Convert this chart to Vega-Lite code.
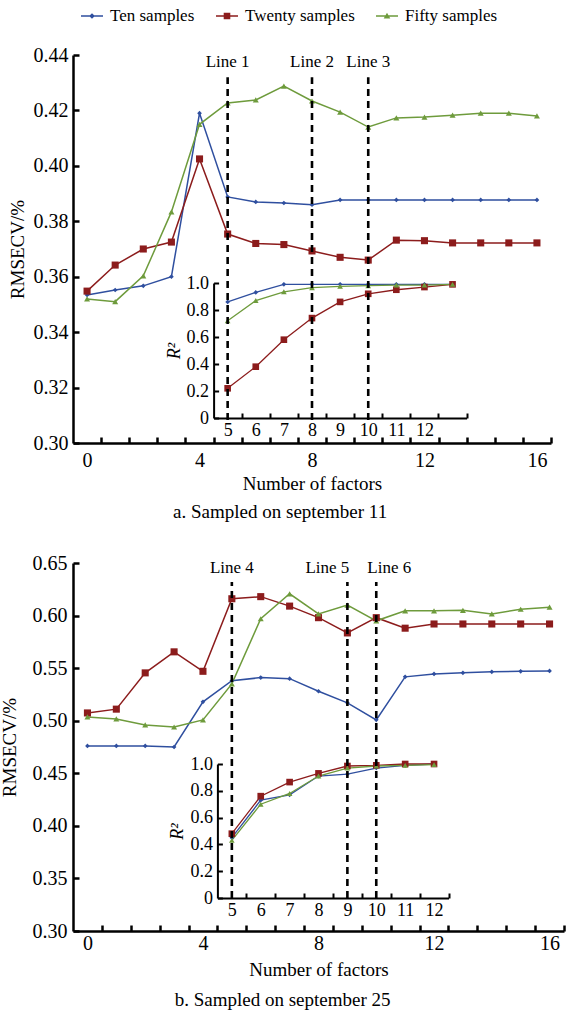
{
  "$schema": "https://vega.github.io/schema/vega-lite/v6.json",
  "background": "white",
  "padding": {"left": 0, "right": 0, "top": 5, "bottom": 0},
  "config": {
    "view": {"stroke": null},
    "font": "Liberation Serif",
    "axis": {"grid": false, "domainColor": "black", "tickColor": "black", "labelColor": "black", "titleColor": "black", "labelFont": "Liberation Serif", "titleFont": "Liberation Serif", "titleFontWeight": "normal", "labelFlush": false, "labelOverlap": false},
    "title": {"font": "Liberation Serif", "fontWeight": "normal", "color": "black"}
  },
  "datasets": {
    "mainA": [
      {"f": 0, "series": "Ten samples", "v": 0.3534}, {"f": 1, "series": "Ten samples", "v": 0.3552}, {"f": 2, "series": "Ten samples", "v": 0.3567}, {"f": 3, "series": "Ten samples", "v": 0.360}, {"f": 4, "series": "Ten samples", "v": 0.419}, {"f": 5, "series": "Ten samples", "v": 0.3888}, {"f": 6, "series": "Ten samples", "v": 0.387}, {"f": 7, "series": "Ten samples", "v": 0.3866}, {"f": 8, "series": "Ten samples", "v": 0.386}, {"f": 9, "series": "Ten samples", "v": 0.3877}, {"f": 10, "series": "Ten samples", "v": 0.3877}, {"f": 11, "series": "Ten samples", "v": 0.3877}, {"f": 12, "series": "Ten samples", "v": 0.3877}, {"f": 13, "series": "Ten samples", "v": 0.3877}, {"f": 14, "series": "Ten samples", "v": 0.3877}, {"f": 15, "series": "Ten samples", "v": 0.3877}, {"f": 16, "series": "Ten samples", "v": 0.3877},
      {"f": 0, "series": "Twenty samples", "v": 0.3548}, {"f": 1, "series": "Twenty samples", "v": 0.3642}, {"f": 2, "series": "Twenty samples", "v": 0.370}, {"f": 3, "series": "Twenty samples", "v": 0.3725}, {"f": 4, "series": "Twenty samples", "v": 0.4025}, {"f": 5, "series": "Twenty samples", "v": 0.3754}, {"f": 6, "series": "Twenty samples", "v": 0.372}, {"f": 7, "series": "Twenty samples", "v": 0.3716}, {"f": 8, "series": "Twenty samples", "v": 0.3693}, {"f": 9, "series": "Twenty samples", "v": 0.367}, {"f": 10, "series": "Twenty samples", "v": 0.366}, {"f": 11, "series": "Twenty samples", "v": 0.3732}, {"f": 12, "series": "Twenty samples", "v": 0.373}, {"f": 13, "series": "Twenty samples", "v": 0.3722}, {"f": 14, "series": "Twenty samples", "v": 0.3722}, {"f": 15, "series": "Twenty samples", "v": 0.3722}, {"f": 16, "series": "Twenty samples", "v": 0.3722},
      {"f": 0, "series": "Fifty samples", "v": 0.352}, {"f": 1, "series": "Fifty samples", "v": 0.351}, {"f": 2, "series": "Fifty samples", "v": 0.3603}, {"f": 3, "series": "Fifty samples", "v": 0.3834}, {"f": 4, "series": "Fifty samples", "v": 0.415}, {"f": 5, "series": "Fifty samples", "v": 0.4227}, {"f": 6, "series": "Fifty samples", "v": 0.4238}, {"f": 7, "series": "Fifty samples", "v": 0.4288}, {"f": 8, "series": "Fifty samples", "v": 0.4234}, {"f": 9, "series": "Fifty samples", "v": 0.4194}, {"f": 10, "series": "Fifty samples", "v": 0.414}, {"f": 11, "series": "Fifty samples", "v": 0.4173}, {"f": 12, "series": "Fifty samples", "v": 0.4176}, {"f": 13, "series": "Fifty samples", "v": 0.4183}, {"f": 14, "series": "Fifty samples", "v": 0.419}, {"f": 15, "series": "Fifty samples", "v": 0.419}, {"f": 16, "series": "Fifty samples", "v": 0.418}
    ],
    "insetA": [
      {"f": 5, "series": "Ten samples", "r": 0.86}, {"f": 6, "series": "Ten samples", "r": 0.93}, {"f": 7, "series": "Ten samples", "r": 0.99}, {"f": 8, "series": "Ten samples", "r": 0.99}, {"f": 9, "series": "Ten samples", "r": 0.99}, {"f": 10, "series": "Ten samples", "r": 0.99}, {"f": 11, "series": "Ten samples", "r": 0.99}, {"f": 12, "series": "Ten samples", "r": 0.99}, {"f": 13, "series": "Ten samples", "r": 0.99},
      {"f": 5, "series": "Twenty samples", "r": 0.22}, {"f": 6, "series": "Twenty samples", "r": 0.38}, {"f": 7, "series": "Twenty samples", "r": 0.58}, {"f": 8, "series": "Twenty samples", "r": 0.74}, {"f": 9, "series": "Twenty samples", "r": 0.86}, {"f": 10, "series": "Twenty samples", "r": 0.92}, {"f": 11, "series": "Twenty samples", "r": 0.95}, {"f": 12, "series": "Twenty samples", "r": 0.97}, {"f": 13, "series": "Twenty samples", "r": 0.99},
      {"f": 5, "series": "Fifty samples", "r": 0.72}, {"f": 6, "series": "Fifty samples", "r": 0.87}, {"f": 7, "series": "Fifty samples", "r": 0.935}, {"f": 8, "series": "Fifty samples", "r": 0.965}, {"f": 9, "series": "Fifty samples", "r": 0.975}, {"f": 10, "series": "Fifty samples", "r": 0.98}, {"f": 11, "series": "Fifty samples", "r": 0.985}, {"f": 12, "series": "Fifty samples", "r": 0.985}, {"f": 13, "series": "Fifty samples", "r": 0.99}
    ],
    "mainB": [
      {"f": 0, "series": "Ten samples", "v": 0.476}, {"f": 1, "series": "Ten samples", "v": 0.476}, {"f": 2, "series": "Ten samples", "v": 0.476}, {"f": 3, "series": "Ten samples", "v": 0.475}, {"f": 4, "series": "Ten samples", "v": 0.518}, {"f": 5, "series": "Ten samples", "v": 0.538}, {"f": 6, "series": "Ten samples", "v": 0.541}, {"f": 7, "series": "Ten samples", "v": 0.540}, {"f": 8, "series": "Ten samples", "v": 0.528}, {"f": 9, "series": "Ten samples", "v": 0.517}, {"f": 10, "series": "Ten samples", "v": 0.5008}, {"f": 11, "series": "Ten samples", "v": 0.5417}, {"f": 12, "series": "Ten samples", "v": 0.5445}, {"f": 13, "series": "Ten samples", "v": 0.5455}, {"f": 14, "series": "Ten samples", "v": 0.5465}, {"f": 15, "series": "Ten samples", "v": 0.547}, {"f": 16, "series": "Ten samples", "v": 0.5474},
      {"f": 0, "series": "Twenty samples", "v": 0.5074}, {"f": 1, "series": "Twenty samples", "v": 0.511}, {"f": 2, "series": "Twenty samples", "v": 0.5455}, {"f": 3, "series": "Twenty samples", "v": 0.5655}, {"f": 4, "series": "Twenty samples", "v": 0.547}, {"f": 5, "series": "Twenty samples", "v": 0.616}, {"f": 6, "series": "Twenty samples", "v": 0.618}, {"f": 7, "series": "Twenty samples", "v": 0.609}, {"f": 8, "series": "Twenty samples", "v": 0.598}, {"f": 9, "series": "Twenty samples", "v": 0.5835}, {"f": 10, "series": "Twenty samples", "v": 0.598}, {"f": 11, "series": "Twenty samples", "v": 0.588}, {"f": 12, "series": "Twenty samples", "v": 0.592}, {"f": 13, "series": "Twenty samples", "v": 0.592}, {"f": 14, "series": "Twenty samples", "v": 0.592}, {"f": 15, "series": "Twenty samples", "v": 0.592}, {"f": 16, "series": "Twenty samples", "v": 0.592},
      {"f": 0, "series": "Fifty samples", "v": 0.5036}, {"f": 1, "series": "Fifty samples", "v": 0.5017}, {"f": 2, "series": "Fifty samples", "v": 0.496}, {"f": 3, "series": "Fifty samples", "v": 0.494}, {"f": 4, "series": "Fifty samples", "v": 0.5008}, {"f": 5, "series": "Fifty samples", "v": 0.535}, {"f": 6, "series": "Fifty samples", "v": 0.597}, {"f": 7, "series": "Fifty samples", "v": 0.6207}, {"f": 8, "series": "Fifty samples", "v": 0.6016}, {"f": 9, "series": "Fifty samples", "v": 0.610}, {"f": 10, "series": "Fifty samples", "v": 0.595}, {"f": 11, "series": "Fifty samples", "v": 0.6045}, {"f": 12, "series": "Fifty samples", "v": 0.6045}, {"f": 13, "series": "Fifty samples", "v": 0.605}, {"f": 14, "series": "Fifty samples", "v": 0.6016}, {"f": 15, "series": "Fifty samples", "v": 0.606}, {"f": 16, "series": "Fifty samples", "v": 0.608}
    ],
    "insetB": [
      {"f": 5, "series": "Ten samples", "r": 0.45}, {"f": 6, "series": "Ten samples", "r": 0.73}, {"f": 7, "series": "Ten samples", "r": 0.77}, {"f": 8, "series": "Ten samples", "r": 0.91}, {"f": 9, "series": "Ten samples", "r": 0.925}, {"f": 10, "series": "Ten samples", "r": 0.97}, {"f": 11, "series": "Ten samples", "r": 0.99}, {"f": 12, "series": "Ten samples", "r": 1.0},
      {"f": 5, "series": "Twenty samples", "r": 0.48}, {"f": 6, "series": "Twenty samples", "r": 0.76}, {"f": 7, "series": "Twenty samples", "r": 0.865}, {"f": 8, "series": "Twenty samples", "r": 0.93}, {"f": 9, "series": "Twenty samples", "r": 0.985}, {"f": 10, "series": "Twenty samples", "r": 0.99}, {"f": 11, "series": "Twenty samples", "r": 1.0}, {"f": 12, "series": "Twenty samples", "r": 1.0},
      {"f": 5, "series": "Fifty samples", "r": 0.43}, {"f": 6, "series": "Fifty samples", "r": 0.70}, {"f": 7, "series": "Fifty samples", "r": 0.78}, {"f": 8, "series": "Fifty samples", "r": 0.91}, {"f": 9, "series": "Fifty samples", "r": 0.97}, {"f": 10, "series": "Fifty samples", "r": 0.985}, {"f": 11, "series": "Fifty samples", "r": 0.99}, {"f": 12, "series": "Fifty samples", "r": 0.995}
    ],
    "linesA": [{"f": 5, "label": "Line 1"}, {"f": 8, "label": "Line 2"}, {"f": 10, "label": "Line 3"}],
    "linesB": [{"f": 5, "label": "Line 4"}, {"f": 9, "label": "Line 5"}, {"f": 10, "label": "Line 6"}]
  },
  "concat": [
    {
      "width": 478,
      "height": 388,
      "title": {"text": "a. Sampled on september 11", "orient": "bottom", "anchor": "middle", "frame": "bounds", "fontSize": 19, "offset": 10},
      "layer": [
        {
          "data": {"name": "mainA"},
          "encoding": {
            "x": {"field": "f", "type": "quantitative", "scale": {"domain": [-0.5, 16.5], "nice": false, "zero": false},
              "axis": {"values": [0, 0.5, 1.5, 2.5, 3.5, 4, 4.5, 5.5, 6.5, 7.5, 8, 8.5, 9.5, 10.5, 11.5, 12, 12.5, 13.5, 14.5, 15.5, 16, 16.5], "tickSize": -6, "tickWidth": 2.5, "domainWidth": 2.5, "tickOpacity": {"condition": {"test": "datum.value % 4 === 0", "value": 0}, "value": 1}, "labelExpr": "datum.value % 4 === 0 ? format(datum.value, 'd') : ''", "labelFontSize": 20, "labelPadding": 13, "title": "Number of factors", "titleFontSize": 19, "titlePadding": 4}},
            "y": {"field": "v", "type": "quantitative", "scale": {"domain": [0.30, 0.44], "nice": false, "zero": false},
              "axis": {"values": [0.30, 0.32, 0.34, 0.36, 0.38, 0.40, 0.42, 0.44], "format": ".2f", "tickSize": -6, "tickWidth": 2.5, "domainWidth": 2.5, "labelFontSize": 20, "labelPadding": 11, "title": "RMSECV/%", "titleFontSize": 19, "titleX": -46}},
            "color": {"field": "series", "type": "nominal", "scale": {"domain": ["Ten samples", "Twenty samples", "Fifty samples"], "range": ["#2f4f9f", "#8c1c1c", "#6e9b3c"]},
              "legend": {"orient": "none", "legendX": 8, "legendY": -50, "direction": "horizontal", "title": null, "labelFont": "Liberation Serif", "labelFontSize": 17, "labelColor": "black", "symbolSize": 484, "symbolStrokeWidth": 0, "columnPadding": 21, "labelOffset": 7,
                "encode": {"symbols": {"update": {
                  "shape": [
                    {"test": "datum.value === 'Ten samples'", "value": "M-1,-0.065H1V0.065H-1ZM0,-0.26L0.26,0L0,0.26L-0.26,0Z"},
                    {"test": "datum.value === 'Twenty samples'", "value": "M-1,-0.065H1V0.065H-1ZM-0.3,-0.3H0.3V0.3H-0.3Z"},
                    {"value": "M-1,-0.065H1V0.065H-1ZM0,-0.3L0.3,0.22H-0.3Z"}
                  ],
                  "size": {"value": 484}
                }}}}}
          },
          "layer": [
            {"mark": {"type": "line", "strokeWidth": 1.5}},
            {"mark": {"type": "point", "filled": true, "opacity": 1},
              "encoding": {
                "shape": {"condition": [{"test": "datum.series === 'Twenty samples'", "value": "square"}, {"test": "datum.series === 'Fifty samples'", "value": "triangle-up"}], "value": "diamond"},
                "size": {"condition": [{"test": "datum.series === 'Twenty samples'", "value": 50}, {"test": "datum.series === 'Fifty samples'", "value": 36}], "value": 22}
              }}
          ]
        },
        {
          "data": {"name": "insetA"},
          "encoding": {
            "x": {"field": "f", "type": "quantitative", "scale": {"domain": [4.5, 13.5], "range": [140.6, 393.6], "nice": false, "zero": false},
              "axis": {"orient": "bottom", "offset": -25, "values": [5, 5.5, 6, 6.5, 7, 7.5, 8, 8.5, 9, 9.5, 10, 10.5, 11, 11.5, 12, 12.5, 13, 13.5], "tickSize": -5, "tickWidth": 2, "domainWidth": 2, "tickOpacity": {"condition": {"test": "datum.value % 1 === 0", "value": 0}, "value": 1}, "labelExpr": "datum.value % 1 === 0 && datum.value <= 12 ? format(datum.value, 'd') : ''", "labelFontSize": 18, "labelPadding": 8, "title": null}},
            "y": {"field": "r", "type": "quantitative", "scale": {"domain": [0, 1], "range": [363, 228], "nice": false, "zero": false},
              "axis": {"orient": "left", "offset": -140.6, "values": [0, 0.2, 0.4, 0.6, 0.8, 1.0], "labelExpr": "datum.value === 0 ? '0' : format(datum.value, '.1f')", "tickSize": -5, "tickWidth": 2, "domainWidth": 2, "labelFontSize": 18, "labelPadding": 10, "title": "R²", "titleFontSize": 18, "titleFontStyle": "italic", "titlePadding": 3}},
            "color": {"field": "series", "type": "nominal"}
          },
          "layer": [
            {"mark": {"type": "line", "strokeWidth": 1.3}},
            {"mark": {"type": "point", "filled": true, "opacity": 1},
              "encoding": {
                "shape": {"condition": [{"test": "datum.series === 'Twenty samples'", "value": "square"}, {"test": "datum.series === 'Fifty samples'", "value": "triangle-up"}], "value": "diamond"},
                "size": {"condition": [{"test": "datum.series === 'Twenty samples'", "value": 44}, {"test": "datum.series === 'Fifty samples'", "value": 32}], "value": 22}
              }}
          ]
        },
        {
          "data": {"name": "linesA"},
          "encoding": {
            "x": {"field": "f", "type": "quantitative", "scale": {"domain": [-0.5, 16.5], "nice": false, "zero": false}, "axis": null}
          },
          "layer": [
            {"mark": {"type": "rule", "strokeDash": [7, 5], "strokeWidth": 2.6, "color": "black"},
              "encoding": {"y": {"datum": 0.3083, "type": "quantitative", "scale": {"domain": [0.30, 0.44], "nice": false, "zero": false}, "axis": null}, "y2": {"datum": 0.432}}},
            {"mark": {"type": "text", "font": "Liberation Serif", "fontSize": 17, "color": "black", "baseline": "middle"},
              "encoding": {"y": {"datum": 0.4375, "type": "quantitative"}, "text": {"field": "label"}}}
          ]
        }
      ],
      "resolve": {"scale": {"x": "independent", "y": "independent"}, "axis": {"x": "independent", "y": "independent"}}
    },
    {
      "width": 491,
      "height": 368,
      "title": {"text": "b. Sampled on september 25", "orient": "bottom", "anchor": "middle", "frame": "bounds", "fontSize": 19, "offset": 12},
      "layer": [
        {
          "data": {"name": "mainB"},
          "encoding": {
            "x": {"field": "f", "type": "quantitative", "scale": {"domain": [-0.5, 16.5], "nice": false, "zero": false},
              "axis": {"values": [0, 0.5, 1.5, 2.5, 3.5, 4, 4.5, 5.5, 6.5, 7.5, 8, 8.5, 9.5, 10.5, 11.5, 12, 12.5, 13.5, 14.5, 15.5, 16, 16.5], "tickSize": -6, "tickWidth": 2.5, "domainWidth": 2.5, "tickOpacity": {"condition": {"test": "datum.value % 4 === 0", "value": 0}, "value": 1}, "labelExpr": "datum.value % 4 === 0 ? format(datum.value, 'd') : ''", "labelFontSize": 20, "labelPadding": 8, "title": "Number of factors", "titleFontSize": 19, "titlePadding": 7}},
            "y": {"field": "v", "type": "quantitative", "scale": {"domain": [0.30, 0.65], "nice": false, "zero": false},
              "axis": {"values": [0.30, 0.35, 0.40, 0.45, 0.50, 0.55, 0.60, 0.65], "format": ".2f", "tickSize": -6, "tickWidth": 2.5, "domainWidth": 2.5, "labelFontSize": 20, "labelPadding": 12, "title": "RMSECV/%", "titleFontSize": 19, "titlePadding": 13}},
            "color": {"field": "series", "type": "nominal"}
          },
          "layer": [
            {"mark": {"type": "line", "strokeWidth": 1.5}},
            {"mark": {"type": "point", "filled": true, "opacity": 1},
              "encoding": {
                "shape": {"condition": [{"test": "datum.series === 'Twenty samples'", "value": "square"}, {"test": "datum.series === 'Fifty samples'", "value": "triangle-up"}], "value": "diamond"},
                "size": {"condition": [{"test": "datum.series === 'Twenty samples'", "value": 50}, {"test": "datum.series === 'Fifty samples'", "value": 36}], "value": 22}
              }}
          ]
        },
        {
          "data": {"name": "insetB"},
          "encoding": {
            "x": {"field": "f", "type": "quantitative", "scale": {"domain": [4.5, 12.5], "range": [144.4, 375.5], "nice": false, "zero": false},
              "axis": {"orient": "bottom", "offset": -33, "values": [5, 5.5, 6, 6.5, 7, 7.5, 8, 8.5, 9, 9.5, 10, 10.5, 11, 11.5, 12, 12.5], "tickSize": -5, "tickWidth": 2, "domainWidth": 2, "tickOpacity": {"condition": {"test": "datum.value % 1 === 0", "value": 0}, "value": 1}, "labelExpr": "datum.value % 1 === 0 ? format(datum.value, 'd') : ''", "labelFontSize": 18, "labelPadding": 8, "title": null}},
            "y": {"field": "r", "type": "quantitative", "scale": {"domain": [0, 1], "range": [335, 201], "nice": false, "zero": false},
              "axis": {"orient": "left", "offset": -144.4, "values": [0, 0.2, 0.4, 0.6, 0.8, 1.0], "labelExpr": "datum.value === 0 ? '0' : format(datum.value, '.1f')", "tickSize": -5, "tickWidth": 2, "domainWidth": 2, "labelFontSize": 18, "labelPadding": 10, "title": "R²", "titleFontSize": 18, "titleFontStyle": "italic", "titlePadding": 3}},
            "color": {"field": "series", "type": "nominal"}
          },
          "layer": [
            {"mark": {"type": "line", "strokeWidth": 1.3}},
            {"mark": {"type": "point", "filled": true, "opacity": 1},
              "encoding": {
                "shape": {"condition": [{"test": "datum.series === 'Twenty samples'", "value": "square"}, {"test": "datum.series === 'Fifty samples'", "value": "triangle-up"}], "value": "diamond"},
                "size": {"condition": [{"test": "datum.series === 'Twenty samples'", "value": 44}, {"test": "datum.series === 'Fifty samples'", "value": 32}], "value": 22}
              }}
          ]
        },
        {
          "data": {"name": "linesB"},
          "encoding": {
            "x": {"field": "f", "type": "quantitative", "scale": {"domain": [-0.5, 16.5], "nice": false, "zero": false}, "axis": null}
          },
          "layer": [
            {"mark": {"type": "rule", "strokeDash": [7, 5], "strokeWidth": 2.6, "color": "black"},
              "encoding": {"y": {"datum": 0.3314, "type": "quantitative", "scale": {"domain": [0.30, 0.65], "nice": false, "zero": false}, "axis": null}, "y2": {"datum": 0.632}}},
            {"transform": [{"filter": "datum.label === 'Line 4'"}], "mark": {"type": "text", "font": "Liberation Serif", "fontSize": 17, "color": "black", "baseline": "middle"},
              "encoding": {"y": {"datum": 0.6454, "type": "quantitative"}, "text": {"field": "label"}}},
            {"transform": [{"filter": "datum.label === 'Line 5'"}], "mark": {"type": "text", "font": "Liberation Serif", "fontSize": 17, "color": "black", "baseline": "middle", "dx": -20},
              "encoding": {"y": {"datum": 0.6454, "type": "quantitative"}, "text": {"field": "label"}}},
            {"transform": [{"filter": "datum.label === 'Line 6'"}], "mark": {"type": "text", "font": "Liberation Serif", "fontSize": 17, "color": "black", "baseline": "middle", "dx": 13},
              "encoding": {"y": {"datum": 0.6454, "type": "quantitative"}, "text": {"field": "label"}}}
          ]
        }
      ],
      "resolve": {"scale": {"x": "independent", "y": "independent"}, "axis": {"x": "independent", "y": "independent"}}
    }
  ],
  "columns": 1,
  "align": "none",
  "spacing": 31
}
